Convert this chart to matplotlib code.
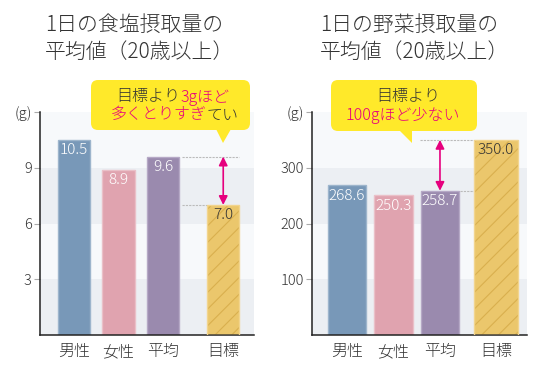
import matplotlib.pyplot as plt
from matplotlib.patches import FancyBboxPatch, Polygon
from matplotlib.text import Annotation
from matplotlib.transforms import IdentityTransform

plt.rcParams['font.family'] = ['Noto Sans CJK JP', 'DejaVu Sans']
plt.rcParams['font.weight'] = 'light'
plt.rcParams['hatch.linewidth'] = 0.8

categories = ['男性', '女性', '平均', '目標']
salt = [10.5, 8.9, 9.6, 7.0]
veg = [268.6, 250.3, 258.7, 350.0]
salt_ticks = [3, 6, 9, 12]
salt_ticklabels = ['3', '6', '9', '(g)']
veg_ticks = [100, 200, 300, 400]
veg_ticklabels = ['100', '200', '300', '(g)']
salt_title = '1日の食塩摂取量の\n平均値（20歳以上）'
veg_title = '1日の野菜摂取量の\n平均値（20歳以上）'

bar_colors = ['#7898B8', '#E0A3AF', '#9A8AAE', '#EBC76C']
edge_colors = ['#9DB5CC', '#EAC0C8', '#B6A9C6', '#F2D58E']
hatch_color = '#D9AF4E'
band_gray = '#ECEFF3'
band_light = '#F7F9FB'
dark = '#333333'
magenta = '#E6007E'
yellow = '#FFE92A'

W, H = 540, 371
fig = plt.figure(figsize=(W / 100, H / 100), dpi=100)
ident = IdentityTransform()


def frac(x0, y0, x1, y1):
    # pixel box (from top-left) -> figure fraction rect
    return [x0 / W, 1 - y1 / H, (x1 - x0) / W, (y1 - y0) / H]


def draw_chart(ax, values, pos, widths, ticks, ticklabels, xlim, fmt):
    ax.set_xlim(*xlim)
    ax.set_ylim(0, ticks[-1])
    edges = [0] + ticks
    for i in range(len(ticks)):
        ax.axhspan(edges[i], edges[i + 1], color=band_gray if i % 2 == 0 else band_light,
                   lw=0, zorder=0)
    for i, (p, v, w) in enumerate(zip(pos, values, widths)):
        if i == 3:
            ax.bar(p, v, w, color=bar_colors[i], edgecolor=hatch_color, lw=0,
                   hatch='//', zorder=2)
            ax.bar(p, v, w, fill=False, edgecolor=edge_colors[i], lw=1, zorder=3)
            tc = dark
        else:
            ax.bar(p, v, w, color=bar_colors[i], edgecolor=edge_colors[i], lw=1, zorder=2)
            tc = 'white'
        ax.annotate(fmt.format(v), xy=(p, v), xytext=(0, -2.5), textcoords='offset points',
                    ha='center', va='top', fontsize=11, color=tc, zorder=4)
    ax.set_yticks(ticks, ticklabels)
    ax.set_xticks(pos, categories)
    ax.tick_params(axis='y', length=4, color='#AAAAAA', labelsize=10.5, labelcolor=dark, pad=2)
    ax.tick_params(axis='x', length=0, labelsize=11.5, labelcolor=dark, pad=6)
    for s in ['top', 'right']:
        ax.spines[s].set_visible(False)
    for s in ['left', 'bottom']:
        ax.spines[s].set_color('#222222')
        ax.spines[s].set_linewidth(1.1)


def gap_marks(ax, x_arrow, lo, hi, hi_span, lo_span):
    ax.annotate('', xy=(x_arrow, lo), xytext=(x_arrow, hi),
                arrowprops=dict(arrowstyle='<|-|>', color=magenta, lw=1.2,
                                mutation_scale=13, shrinkA=0, shrinkB=0), zorder=5)
    ax.plot(hi_span, [hi, hi], ls=(0, (2, 1)), color='#BBBBBB', lw=0.8, zorder=1)
    ax.plot(lo_span, [lo, lo], ls=(0, (2, 1)), color='#BBBBBB', lw=0.8, zorder=1)


# left chart: salt
ax1 = fig.add_axes(frac(40, 112, 254, 335))
pos1 = [0, 1, 2, 3.35]
w1 = [0.72] * 4
draw_chart(ax1, salt, pos1, w1, salt_ticks, salt_ticklabels, (-0.76, 4.04), '{:.1f}')
gap_marks(ax1, pos1[3], salt[3], salt[2],
          [pos1[2] + w1[2] / 2 + 0.06, pos1[3] + w1[3] / 2],
          [pos1[2] + w1[2] / 2 + 0.06, pos1[3] - w1[3] / 2])

# right chart: vegetables
ax2 = fig.add_axes(frac(312, 112, 527, 335))
pos2 = [0, 1, 2, 3.2]
w2 = [0.82, 0.82, 0.82, 0.95]
draw_chart(ax2, veg, pos2, w2, veg_ticks, veg_ticklabels, (-0.75, 3.87), '{:.1f}')
gap_marks(ax2, pos2[2], veg[2], veg[3],
          [pos2[2] - w2[2] / 2 - 0.02, pos2[3] - w2[3] / 2],
          [pos2[2] + w2[2] / 2 + 0.02, pos2[3] - w2[3] / 2])

# titles
for x0, title in [(45, salt_title), (320, veg_title)]:
    for k, line in enumerate(title.split('\n')):
        fig.text(x0, H - (25 + 27 * k), line, transform=ident, fontsize=15,
                 color=dark, va='center', ha='left')


def callout(x0, y0, x1, y1, tri):
    box = FancyBboxPatch((x0, H - y1), x1 - x0, y1 - y0,
                         boxstyle='round,pad=0,rounding_size=7', transform=ident,
                         facecolor=yellow, edgecolor='none', zorder=10)
    fig.add_artist(box)
    fig.add_artist(Polygon([(x, H - y) for x, y in tri], closed=True, transform=ident,
                           facecolor=yellow, edgecolor='none', zorder=10))


def rich_line(x0, yc, parts):
    # pieces of one line in different colours, each placed right after the previous one
    prev = None
    for s, c in parts:
        if prev is None:
            prev = fig.text(x0, H - yc, s, transform=ident, fontsize=11.5, color=c,
                            va='center', ha='left', zorder=11)
        else:
            prev = fig.add_artist(Annotation(s, xy=(1, 0.5), xycoords=prev, fontsize=11.5,
                                             color=c, va='center', ha='left', zorder=11))


callout(91, 80, 250, 130, [(216, 129), (231, 129), (223, 143)])
rich_line(116, 97, [('目標より', dark), ('3gほど', magenta)])
rich_line(111, 115, [('多くとりすぎ', magenta), ('てい', dark)])

callout(331, 80, 477, 131, [(398, 129), (412, 129), (412, 143)])
rich_line(376, 97, [('目標より', dark)])
rich_line(346, 115, [('100gほど少ない', magenta)])

fig.savefig('out.png', dpi=100)
